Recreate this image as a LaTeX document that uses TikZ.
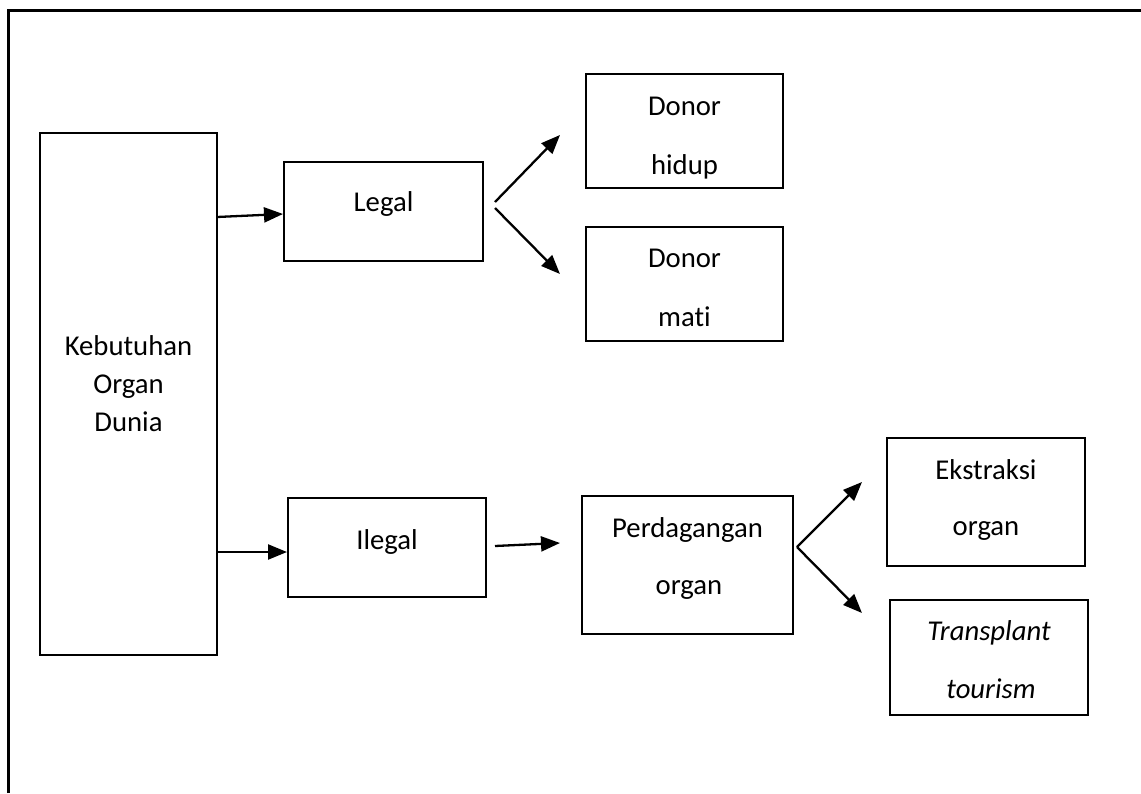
\documentclass[tikz,border=0pt]{standalone}
\usepackage{fontspec}
\setmainfont{Carlito}[Ligatures=NoCommon]
\usetikzlibrary{arrows.meta}
\begin{document}
\begin{tikzpicture}[x=1pt,y=-1pt,
  box/.style={draw=black,line width=2.6pt,inner sep=0pt,outer sep=0pt,minimum width=#1},
  txt/.style={anchor=base,inner sep=0pt,font=\fontsize{28.7}{34}\selectfont},
  arr/.style={line width=2.3pt,-{Triangle[length=19pt,width=15pt]}}]
\useasboundingbox (0,0) rectangle (1141,793);
\fill[white] (0,0) rectangle (1141,793);
% frame
\draw[line width=3pt] (8,793) -- (8,10) -- (1141,10);
% boxes
\node[box=177pt,minimum height=522pt] (keb) at (128.5,394) {};
\node[box=199pt,minimum height=99pt] (legal) at (383.5,211.5) {};
\node[box=197pt,minimum height=114pt] (hidup) at (684.5,131) {};
\node[box=197pt,minimum height=114pt] (mati) at (684.5,284) {};
\node[box=198pt,minimum height=99pt] (ilegal) at (387,547.5) {};
\node[box=211pt,minimum height=138pt] (perd) at (687.5,565) {};
\node[box=198pt,minimum height=128pt] (ekst) at (986,502) {};
\node[box=198pt,minimum height=115pt] (trans) at (989,657.5) {};
% texts
\node[txt] (k1) at (128.5,355) {Kebutuhan};
\node[txt] (k2) at (128.5,393) {Organ};
\node[txt] (k3) at (128.5,431) {Dunia};
\node[txt] (l1) at (383.5,211) {Legal};
\node[txt] (h1) at (684.5,115) {Donor};
\node[txt] (h2) at (684.5,174) {hidup};
\node[txt] (m1) at (684.5,267) {Donor};
\node[txt] (m2) at (684.5,326) {mati};
\node[txt] (i1) at (387,549) {Ilegal};
\node[txt] (p1) at (687.5,537) {Perdagangan};
\node[txt] (p2) at (689,594) {organ};
\node[txt] (e1) at (986,479) {Ekstraksi};
\node[txt] (e2) at (986,535) {organ};
\node[txt] (r1) at (989,640) {\itshape Transplant};
\node[txt] (r2) at (991,698) {\itshape tourism};
% connectors
\draw[arr] ([shift={(0,-177)}]keb.east) -- ([shift={(-1,2.5)}]legal.west);
\draw[arr] ([shift={(0,158)}]keb.east) -- ([shift={(-1,4.5)}]ilegal.west);
\draw[arr] ([shift={(12,-9.5)}]legal.east) -- ([shift={(-26,4)}]hidup.west);
\draw[arr] ([shift={(12,-3.5)}]legal.east) -- ([shift={(-26,-10)}]mati.west);
\draw[arr] ([shift={(9,-1.5)}]ilegal.east) -- ([shift={(-22,-22)}]perd.west);
\draw[arr] ([shift={(4,-18)}]perd.east) -- ([shift={(-25,-20)}]ekst.west);
\draw[arr] ([shift={(4,-18)}]perd.east) -- ([shift={(-28,-44.5)}]trans.west);
\end{tikzpicture}
\end{document}
